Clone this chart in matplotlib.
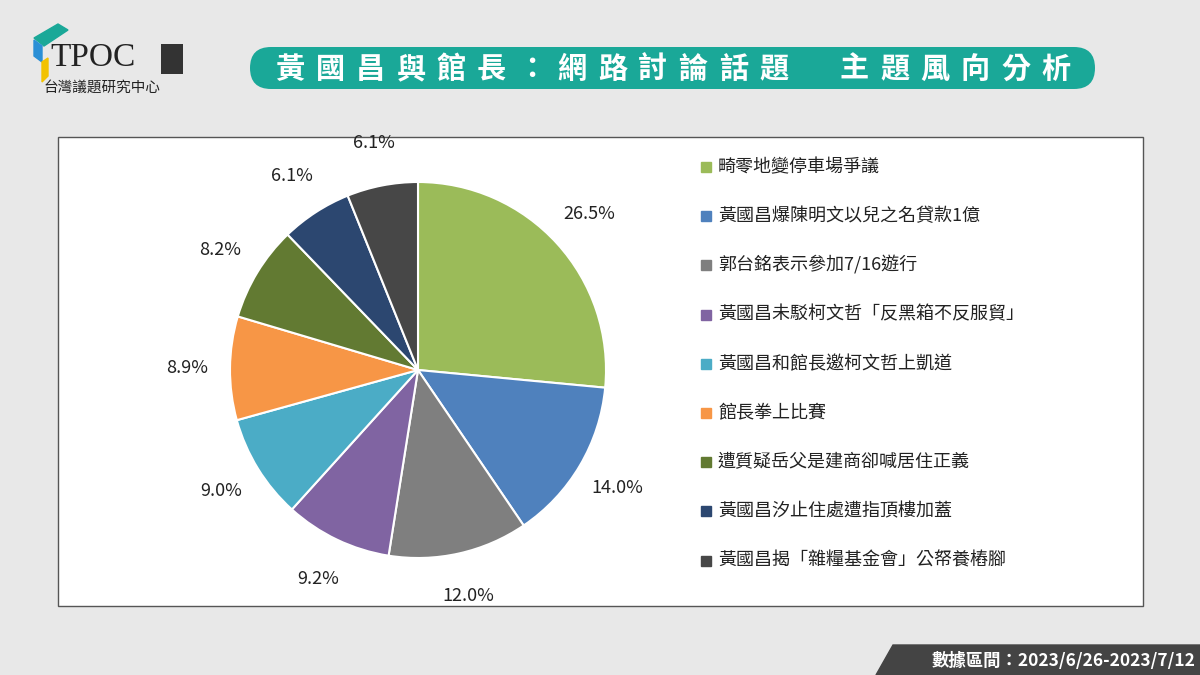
import matplotlib
matplotlib.use("Agg")
import matplotlib.pyplot as plt
from matplotlib.patches import FancyBboxPatch, Rectangle, Polygon

plt.rcParams['font.family'] = ['Noto Sans CJK TC', 'DejaVu Sans']

categories = ["畸零地變停車場爭議", "黃國昌爆陳明文以兒之名貸款1億", "郭台銘表示參加7/16遊行",
              "黃國昌未駁柯文哲「反黑箱不反服貿」", "黃國昌和館長邀柯文哲上凱道", "館長拳上比賽",
              "遭質疑岳父是建商卻喊居住正義", "黃國昌汐止住處遭指頂樓加蓋", "黃國昌揭「雜糧基金會」公帑養樁腳"]
values = [26.5, 14.0, 12.0, 9.2, 9.0, 8.9, 8.2, 6.1, 6.1]
colors = ["#9bbb59", "#4f81bd", "#7f7f7f", "#8064a2", "#4bacc6", "#f79646", "#627a32", "#2c4770", "#474747"]
title = "黃國昌與館長：網路討論話題　主題風向分析"

W, H = 1200, 675
fig = plt.figure(figsize=(12, 6.75), dpi=100)
fig.patch.set_facecolor("#e8e8e8")
bg = fig.add_axes([0, 0, 1, 1])
bg.set_xlim(0, W); bg.set_ylim(H, 0); bg.axis("off")

# white panel
bg.add_patch(Rectangle((58, 137), 1085, 469, facecolor="white", edgecolor="#555555", lw=1))
# title banner
bg.add_patch(FancyBboxPatch((250, 47), 845, 42, boxstyle="round,pad=0,rounding_size=21",
                            facecolor="#1aa898", edgecolor="none"))
n = len(title)
x0, x1 = 290, 1056
for i, ch in enumerate(title):
    bg.text(x0 + (x1 - x0) * i / (n - 1), 69, ch, color="white", fontsize=21,
            fontweight="bold", ha="center", va="center")
# logo
bg.add_patch(Polygon([[34, 38], [58, 24], [68, 30], [44, 46]], color="#1aa898"))
bg.add_patch(Polygon([[34, 40], [42, 46], [42, 62], [34, 56]], color="#2a8fd6"))
bg.add_patch(Polygon([[42, 62], [48, 58], [48, 76], [42, 82]], color="#f2c200"))
bg.text(50, 58, "TPOC", fontsize=24, family="Liberation Serif", va="center", ha="left", color="#222222")
bg.add_patch(Rectangle((161, 44), 22, 30, facecolor="#333333"))
bg.text(102, 88, "台灣議題研究中心", fontsize=10.5, ha="center", va="center", color="#222222")
# date box
bg.add_patch(Polygon([[876, 675], [893, 645], [1200, 645], [1200, 675]], color="#444444"))
bg.text(1195, 661, "數據區間：2023/6/26-2023/7/12", color="white", fontsize=12.5,
        fontweight="bold", ha="right", va="center")

# pie
cx, cy, R = 418, 370, 188
S = 250
ax = fig.add_axes([(cx - S) / W, (H - cy - S) / H, 2 * S / W, 2 * S / H])
ax.pie(values, colors=colors, startangle=90, counterclock=False, radius=1,
       autopct=lambda p: f"{p:.1f}%", pctdistance=1.23,
       wedgeprops=dict(edgecolor="white", linewidth=1.5),
       textprops=dict(fontsize=13, color="#222222"))
ax.set_xlim(-S / R, S / R); ax.set_ylim(-S / R, S / R)
ax.set_aspect("equal"); ax.axis("off")

# legend
for i, (c, col) in enumerate(zip(categories, colors)):
    y = 167 + i * 49.2
    bg.add_patch(Rectangle((701, y - 5), 10, 10, color=col))
    bg.text(718, y, c, fontsize=13, va="center", ha="left", color="#222222")

fig.savefig("out.png", dpi=100, facecolor=fig.get_facecolor())
